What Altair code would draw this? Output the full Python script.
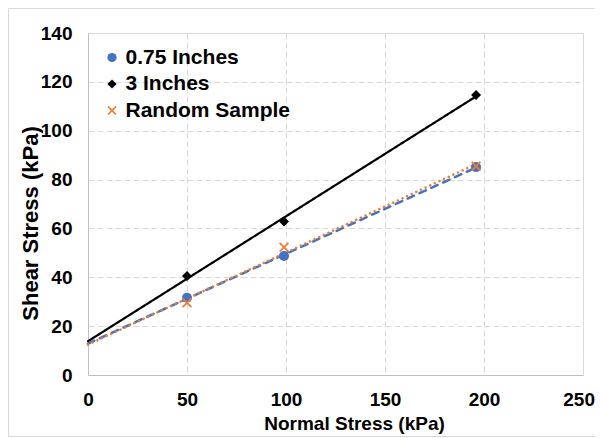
import altair as alt
import pandas as pd

# ---- data ----
normal_stress = [50, 99, 196]
series_names = ["0.75 Inches", "3 Inches", "Random Sample"]
shear_075 = [31.6, 48.7, 85.1]
shear_3 = [40.5, 62.8, 114.6]
shear_random = [29.6, 52.3, 85.5]

x_ticks = [0, 50, 100, 150, 200, 250]
y_ticks = [0, 20, 40, 60, 80, 100, 120, 140]

colors = ["#4472C4", "#000000", "#ED7D31"]
x_shape = ("M-1,-0.75L-0.75,-1L0,-0.25L0.75,-1L1,-0.75L0.25,0L1,0.75L0.75,1L0,0.25"
           "L-0.75,1L-1,0.75L-0.25,0Z")
shapes = ["circle", "diamond", x_shape]
line_dash = [[7, 6], [1, 0], [0.1, 5]]
line_width = [2.5, 2.2, 2.5]

rows = []
for name, vals in zip(series_names, [shear_075, shear_3, shear_random]):
    for xv, yv in zip(normal_stress, vals):
        rows.append({"series": name, "normal": xv, "shear": yv})
df = pd.DataFrame(rows)

FONT = "Liberation Sans"
last_x = x_ticks[-1]

x_enc = alt.X(
    "normal:Q",
    scale=alt.Scale(domain=[0, 250], nice=False, zero=True),
    axis=alt.Axis(
        values=x_ticks, title="Normal Stress (kPa)", grid=True,
        gridDash=[6, 3], gridColor="#d9d9d9", gridWidth=1,
        domainColor="#bfbfbf", domainWidth=1, ticks=False, tickSize=0,
        labelFont=FONT, labelFontSize=19, labelFontWeight="bold",
        labelColor="#000000", labelPadding=15, labelFlush=False,
        labelOverlap=False,
        labelAlign={"condition": {"test": f"datum.value == {last_x}", "value": "right"},
                    "value": "center"},
        labelOffset={"condition": {"test": f"datum.value == {last_x}", "value": 11.5},
                     "value": 0},
        titleFont=FONT, titleFontSize=19, titleFontWeight="bold",
        titleColor="#000000", titleX=266, titleY=48,
        titleAlign="center", titleBaseline="middle",
    ),
)
y_enc = alt.Y(
    "shear:Q",
    scale=alt.Scale(domain=[0, 140], nice=False, zero=True),
    axis=alt.Axis(
        values=y_ticks, title="Shear Stress (kPa)", grid=True,
        gridDash=[6, 3], gridColor="#d9d9d9", gridWidth=1,
        domainColor="#bfbfbf", domainWidth=1, ticks=False, tickSize=0,
        labelFont=FONT, labelFontSize=19, labelFontWeight="bold",
        labelColor="#000000", labelPadding=16, labelFlush=False,
        titleFont=FONT, titleFontSize=22, titleFontWeight="bold",
        titleColor="#000000", titleX=-58, titleY=190, titleAngle=270,
        titleAlign="center", titleBaseline="middle",
    ),
)

layers = []

# chart-area border
border = alt.Chart(pd.DataFrame({"b": [0]})).mark_rect(
    filled=False, stroke="#d9d9d9", strokeWidth=1
).encode(
    x=alt.value(-79.5), x2=alt.value(540), y=alt.value(-24.5), y2=alt.value(403.5)
)
layers.append(border)

# trendlines (linear fits over the data)
for name, col, dash, w in zip(series_names, colors, line_dash, line_width):
    ln = alt.Chart(df).transform_filter(
        alt.datum.series == name
    ).transform_regression(
        "normal", "shear", extent=[0, 196]
    ).mark_line(
        color=col, strokeWidth=w, strokeDash=dash, strokeCap="round"
    ).encode(x=x_enc, y=y_enc)
    layers.append(ln)

legend = alt.Legend(
    title=None, orient="none", legendX=13.5, legendY=14,
    labelFont=FONT, labelFontSize=21, labelFontWeight="bold",
    labelColor="#000000", symbolSize=85, rowPadding=4.5, padding=0,
    labelOffset=3, symbolStrokeWidth=0, labelLimit=400,
)

points = alt.Chart(df).mark_point(filled=True, size=100, opacity=1).encode(
    x=x_enc,
    y=y_enc,
    color=alt.Color(
        "series:N",
        scale=alt.Scale(domain=series_names, range=colors),
        legend=legend,
    ),
    shape=alt.Shape(
        "series:N",
        scale=alt.Scale(domain=series_names, range=shapes),
        legend=legend,
    ),
)
layers.append(points)

chart = alt.layer(*layers).properties(
    width=495,
    height=342,
    autosize=alt.AutoSizeParams(type="none"),
    padding={"left": 80, "top": 25, "right": 12, "bottom": 63},
).configure_view(stroke=None).configure(background="white")

chart.save("out.html", embed_options={"renderer": "svg", "actions": False})
